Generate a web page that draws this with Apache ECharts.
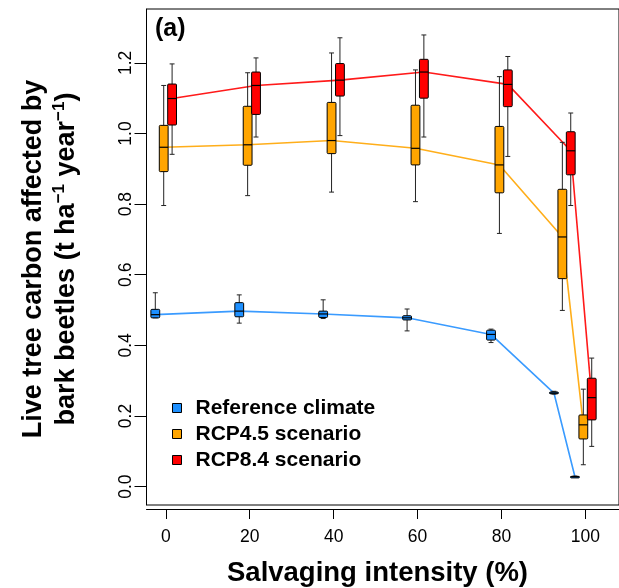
<!DOCTYPE html>
<html><head><meta charset="utf-8">
<script src="https://cdn.jsdelivr.net/npm/echarts@6/dist/echarts.min.js"></script>
<style>html,body{margin:0;padding:0;background:#fff}#c{width:619px;height:588px}</style>
</head><body><div id="c"></div>
<script>
// Salvaging intensity groups (%)
const groups = [0, 20, 40, 60, 80, 95, 100];
const xTicks = [0, 20, 40, 60, 80, 100];
const yTicks = [0, 0.2, 0.4, 0.6, 0.8, 1.0, 1.2];
const seriesNames = ['Reference climate', 'RCP4.5 scenario', 'RCP8.4 scenario'];
const groupOffsets = [-2.5, -0.5, 1.5];
// each row: [lower whisker, Q1, median, Q3, upper whisker]
const refClimate = [
  [0.478, 0.478, 0.487, 0.502, 0.549],
  [0.463, 0.481, 0.497, 0.521, 0.543],
  [0.476, 0.479, 0.489, 0.497, 0.529],
  [0.441, 0.472, 0.478, 0.484, 0.503],
  [0.408, 0.415, 0.431, 0.443, 0.446],
  [0.262, 0.263, 0.265, 0.268, 0.270],
  [0.026, 0.027, 0.028, 0.029, 0.030]
];
const rcp45 = [
  [0.796, 0.892, 0.961, 1.023, 1.136],
  [0.824, 0.910, 0.968, 1.077, 1.172],
  [0.834, 0.943, 0.980, 1.088, 1.228],
  [0.807, 0.911, 0.958, 1.080, 1.180],
  [0.717, 0.832, 0.911, 1.020, 1.161],
  [0.499, 0.589, 0.707, 0.842, 0.975],
  [0.062, 0.135, 0.175, 0.203, 0.276]
];
const rcp84 = [
  [0.941, 1.024, 1.099, 1.140, 1.197],
  [0.990, 1.054, 1.136, 1.174, 1.214],
  [0.994, 1.106, 1.151, 1.198, 1.271],
  [0.990, 1.100, 1.174, 1.210, 1.279],
  [0.935, 1.076, 1.139, 1.180, 1.218],
  [0.796, 0.883, 0.951, 1.005, 1.058],
  [0.114, 0.189, 0.252, 0.307, 0.364]
];
const fills = ['#1E90FF', '#FFA500', '#FF0000'];
const lineColors = ['#3A9BFF', '#FFAE1A', '#FF1A1A'];
const FONT = "'Liberation Sans', Arial, Helvetica, sans-serif";
const BOX_W = 2.1;

const allStats = [refClimate, rcp45, rcp84];

function boxData(stats, k) {
  return stats.map((s, i) => [groups[i] + groupOffsets[k]].concat(s));
}
function medianLine(stats, k) {
  return stats.map((s, i) => [groups[i] + groupOffsets[k], s[2]]);
}
function renderBox(color) {
  return function (params, api) {
    const x = api.value(0);
    const lo = api.coord([x, api.value(1)]);
    const q1 = api.coord([x, api.value(2)]);
    const md = api.coord([x, api.value(3)]);
    const q3 = api.coord([x, api.value(4)]);
    const hi = api.coord([x, api.value(5)]);
    const w = api.size([BOX_W, 0])[0];
    const cx = lo[0];
    const cap = w * 0.28;
    const ws = { stroke: '#222', lineWidth: 1 };
    return {
      type: 'group',
      children: [
        { type: 'line', shape: { x1: cx, y1: hi[1], x2: cx, y2: q3[1] }, style: ws },
        { type: 'line', shape: { x1: cx, y1: q1[1], x2: cx, y2: lo[1] }, style: ws },
        { type: 'line', shape: { x1: cx - cap, y1: hi[1], x2: cx + cap, y2: hi[1] }, style: ws },
        { type: 'line', shape: { x1: cx - cap, y1: lo[1], x2: cx + cap, y2: lo[1] }, style: ws },
        { type: 'rect', shape: { x: cx - w / 2, y: q3[1], width: w, height: Math.max(q1[1] - q3[1], 1.5), r: 1 },
          style: { fill: color, stroke: '#000', lineWidth: 1 } },
        { type: 'line', shape: { x1: cx - w / 2, y1: md[1], x2: cx + w / 2, y2: md[1] },
          style: { stroke: '#000', lineWidth: 1.2 } }
      ]
    };
  };
}

const series = [];
allStats.forEach((st, k) => {
  series.push({
    type: 'line', name: seriesNames[k] + ' (median)', data: medianLine(st, k),
    symbol: 'none', z: 2, silent: true,
    lineStyle: { color: lineColors[k], width: 1.6 }
  });
});
allStats.forEach((st, k) => {
  series.push({
    type: 'custom', name: seriesNames[k], data: boxData(st, k), z: 3,
    itemStyle: { color: fills[k], borderColor: '#000' },
    encode: { x: 0, y: [1, 2, 3, 4, 5] },
    renderItem: renderBox(fills[k])
  });
});

const chart = echarts.init(document.getElementById('c'), null, { renderer: 'canvas' });
chart.setOption({
  animation: false,
  backgroundColor: '#fff',
  textStyle: { fontFamily: FONT },
  grid: { left: 146.5, top: 9, right: -4, bottom: 83, show: true, borderColor: '#000', borderWidth: 1 },
  xAxis: {
    type: 'value', min: -4.6, max: 108, offset: 4,
    axisLine: { show: true, onZero: false, lineStyle: { color: '#000', width: 1 } },
    axisTick: { show: true, length: 10, customValues: xTicks, lineStyle: { color: '#000' } },
    axisLabel: { customValues: xTicks, fontSize: 17.5, color: '#000', margin: 19, fontFamily: FONT },
    splitLine: { show: false }
  },
  yAxis: {
    type: 'value', min: -0.052, max: 1.3525,
    axisLine: { show: true, onZero: false, lineStyle: { color: '#000', width: 1 } },
    axisTick: { show: true, length: 12, customValues: yTicks, lineStyle: { color: '#000' } },
    axisLabel: { customValues: yTicks, rotate: 90, fontSize: 17.5, color: '#000', margin: 11,
      fontFamily: FONT, formatter: v => v.toFixed(1) },
    splitLine: { show: false }
  },
  legend: {
    data: seriesNames, orient: 'vertical', left: 167, top: 392,
    icon: 'rect', itemWidth: 9, itemHeight: 9, itemGap: 4,
    itemStyle: { borderColor: '#000', borderWidth: 1 },
    textStyle: { fontSize: 21, fontWeight: 'bold', color: '#000', fontFamily: FONT,
      lineHeight: 22, padding: [0, 0, 0, 9] },
    selectedMode: false
  },
  graphic: [
    { type: 'text', left: 155, top: 17, style: { text: '(a)', font: 'bold 25px ' + FONT, fill: '#000' } },
    { type: 'text', x: 377.5, y: 573, style: { text: 'Salvaging intensity (%)', font: 'bold 27.5px ' + FONT,
      fill: '#000', align: 'center', verticalAlign: 'middle' } },
    { type: 'text', x: 50.5, y: 259, rotation: Math.PI / 2,
      style: {
        text: '{n|Live tree carbon affected by}\n{n|bark beetles (t ha}{s|\u22121}{n| year}{s|\u22121}{n|)}',
        align: 'center', verticalAlign: 'middle', fill: '#000',
        rich: {
          n: { font: 'bold 27px ' + FONT, lineHeight: 33, fill: '#000' },
          s: { font: 'bold 17px ' + FONT, lineHeight: 33, verticalAlign: 'top', fill: '#000' }
        }
      } }
  ],
  series: series
});
</script></body></html>
